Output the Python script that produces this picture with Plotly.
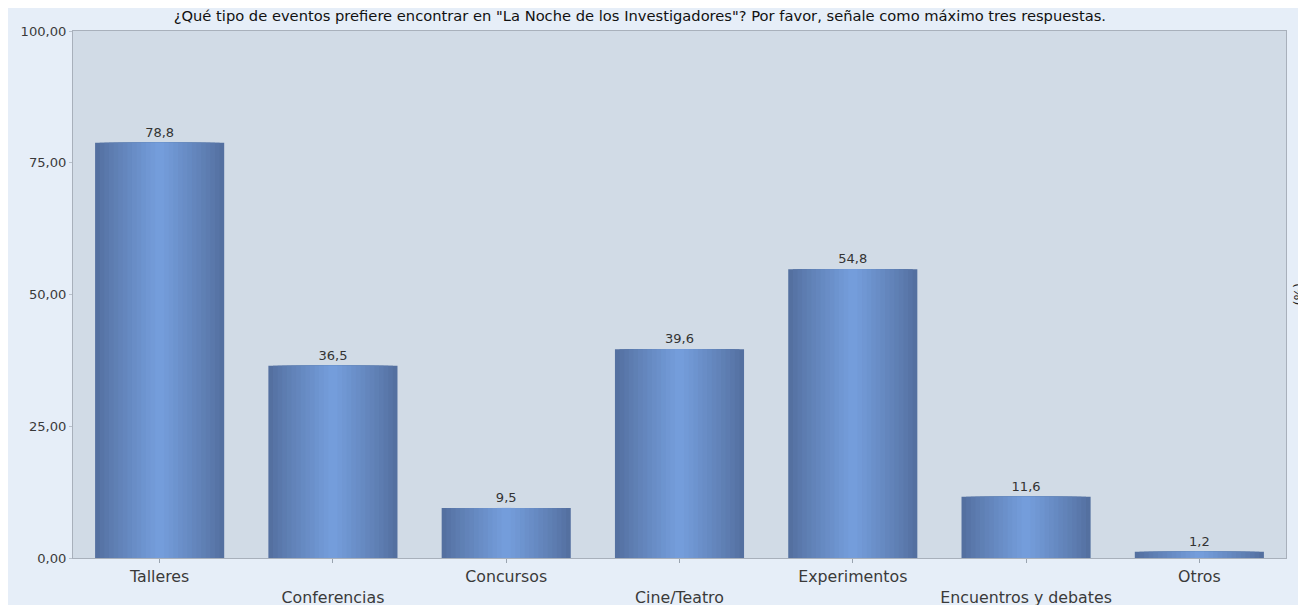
import plotly.graph_objects as go

categories = ["Talleres", "Conferencias", "Concursos", "Cine/Teatro",
              "Experimentos", "Encuentros y debates", "Otros"]
values = [78.8, 36.5, 9.5, 39.6, 54.8, 11.6, 1.2]
value_labels = ["78,8", "36,5", "9,5", "39,6", "54,8", "11,6", "1,2"]
y_ticks = [0, 25, 50, 75, 100]
title_text = '¿Qué tipo de eventos prefiere encontrar en "La Noche de los Investigadores"? Por favor, señale como máximo tres respuestas.'
right_title = "(%)"

FONT = "DejaVu Sans"
edge = (84, 112, 160)
center = (116, 157, 219)
n_layers = 14
full_w = 0.745

fig = go.Figure()
for i in range(n_layers):
    t = i / (n_layers - 1)
    c = tuple(round(edge[k] + (center[k] - edge[k]) * (t ** 0.9)) for k in range(3))
    w = full_w * (1 - i / n_layers)
    fig.add_trace(go.Bar(
        x=list(range(len(categories))), y=values, width=w,
        marker=dict(color=f"rgb{c}", line=dict(width=0)),
        text=value_labels if i == 0 else None,
        textposition="outside" if i == 0 else "none",
        textfont=dict(family=FONT, size=13, color="#333333"),
        cliponaxis=False, hoverinfo="skip", showlegend=False,
    ))

ticktext = [c if i % 2 == 0 else "<br>" + c for i, c in enumerate(categories)]

fig.add_annotation(text=right_title, xref="paper", yref="paper", x=1, y=0.5,
                   xanchor="left", yanchor="middle", xshift=3, textangle=90,
                   showarrow=False, font=dict(family=FONT, size=13, color="#222222"))

fig.update_layout(
    width=1290, height=597,
    barmode="overlay",
    paper_bgcolor="#e6eef8",
    plot_bgcolor="#d1dbe6",
    margin=dict(l=65, r=12, t=23, b=47, autoexpand=False),
    font=dict(family=FONT, size=13, color="#333333"),
    separators=",.",
    title=dict(text=title_text, x=0.4898, xanchor="center", y=0.996, yanchor="top",
               pad=dict(t=0, b=0), yref="container",
               font=dict(family=FONT, size=14.7, color="#111111")),
    xaxis=dict(range=[-0.5, len(categories) - 0.5], tickvals=list(range(len(categories))),
               ticktext=ticktext, ticks="outside", ticklen=4, tickcolor="#9aa4b0",
               showgrid=False, showline=True, linecolor="#a8b0bb", mirror=True,
               automargin=False,
               tickfont=dict(family=FONT, size=15.8, color="#3a3a3a"), zeroline=False),
    yaxis=dict(range=[0, 100], tickvals=y_ticks, tickformat=".2f", showgrid=False,
               showline=True, linecolor="#a8b0bb", mirror=True, ticks="outside",
               ticklen=3, tickcolor="#b8c0ca", zeroline=False, automargin=False,
               tickfont=dict(family=FONT, size=13.1, color="#3a3a3a")),
)

fig.write_html(
    "out.html",
    post_script="document.body.style.marginRight='0px';document.body.style.marginBottom='0px';"
                "document.documentElement.style.overflow='hidden';",
)
